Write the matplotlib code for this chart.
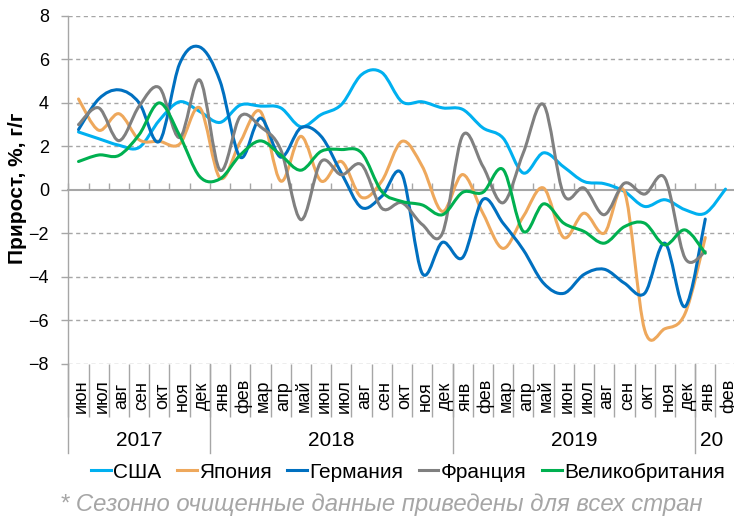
import numpy as np
import matplotlib
matplotlib.use('Agg')
import matplotlib.pyplot as plt
from matplotlib.path import Path
from matplotlib.patches import PathPatch
from matplotlib.lines import Line2D
import matplotlib.transforms as mtransforms

plt.rcParams['font.family'] = ['Liberation Sans', 'DejaVu Sans']

months = ['июн', 'июл', 'авг', 'сен', 'окт', 'ноя', 'дек',
          'янв', 'фев', 'мар', 'апр', 'май', 'июн', 'июл', 'авг', 'сен', 'окт', 'ноя', 'дек',
          'янв', 'фев', 'мар', 'апр', 'май', 'июн', 'июл', 'авг', 'сен', 'окт', 'ноя', 'дек',
          'янв', 'фев']
years = ['2017', '2018', '2019', '20']
year_start = [0, 7, 19, 31]

usa = [2.66, 2.35, 2.05, 1.95, 3.2, 4.05, 3.6, 3.1, 3.9, 3.85, 3.77, 2.9, 3.46, 3.92,
       5.3, 5.4, 4.05, 4.05, 3.77, 3.7, 2.85, 2.38, 0.77, 1.7, 1.05, 0.38, 0.28, -0.08,
       -0.77, -0.46, -0.92, -1.08, 0.03]
japan = [4.18, 2.74, 3.5, 2.3, 2.23, 2.1, 3.77, 0.54, 2.2, 3.6, 0.4, 2.46, 0.4, 1.3,
         -0.35, 0.4, 2.23, 1.08, -1.0, 0.7, -1.08, -2.7, -1.23, 0.08, -2.2, -1.08, -2.0,
         -0.08, -6.45, -6.4, -5.7, -2.2]
germany = [2.77, 4.18, 4.6, 4.0, 2.23, 5.8, 6.57, 5.0, 1.5, 3.3, 1.5, 2.85, 2.46, 0.77,
           -0.82, -0.3, 0.72, -3.85, -2.42, -3.12, -0.45, -1.54, -2.77, -4.3, -4.77, -3.9,
           -3.66, -4.3, -4.77, -2.46, -5.38, -1.35]
france = [3.0, 3.77, 2.26, 3.85, 4.7, 2.4, 5.05, 0.9, 3.38, 2.9, 1.85, -1.38, 1.3, 0.69,
          1.15, -0.85, -0.6, -1.6, -2.0, 2.5, 1.08, -0.6, 1.7, 3.92, -0.23, 0.08, -1.15,
          0.3, -0.2, 0.54, -3.15, -2.85]
uk = [1.3, 1.6, 1.58, 2.54, 4.0, 2.5, 0.6, 0.5, 1.6, 2.25, 1.6, 0.9, 1.77, 1.85, 1.7,
      -0.08, -0.54, -0.7, -1.15, -0.12, -0.12, 0.93, -1.92, -0.65, -1.54, -1.92, -2.46,
      -1.7, -1.54, -2.54, -1.85, -2.92]

series = [('США', usa, '#00B0F0'),
          ('Япония', japan, '#EEA85C'),
          ('Германия', germany, '#0070C0'),
          ('Франция', france, '#808080'),
          ('Великобритания', uk, '#00B050')]


def smooth_path(y):
    # excel-like smoothed line: catmull-rom as cubic bezier segments
    x = np.arange(len(y), dtype=float)
    y = np.asarray(y, dtype=float)
    pts = np.column_stack([x, y])
    ext = np.vstack([pts[0], pts, pts[-1]])
    verts = [pts[0]]
    codes = [Path.MOVETO]
    for i in range(len(pts) - 1):
        p0, p1, p2, p3 = ext[i], ext[i + 1], ext[i + 2], ext[i + 3]
        verts += [p1 + (p2 - p0) / 6, p2 - (p3 - p1) / 6, p2]
        codes += [Path.CURVE4] * 3
    return Path(verts, codes)


W, H = 734, 523
fig = plt.figure(figsize=(W / 100, H / 100), dpi=100)
ax_l, ax_r, ax_t, ax_b = 68.4, 735.6, 16, 363.5
ax = fig.add_axes([ax_l / W, 1 - ax_b / H, (ax_r - ax_l) / W, (ax_b - ax_t) / H])
gray = '#A6A6A6'

n = len(months)
ax.set_xlim(-0.5, n - 0.5)
ax.set_ylim(-8, 8)
ax.set_yticks(range(-8, 9, 2))
ax.tick_params(axis='y', length=5, width=1, color=gray, pad=9, labelsize=13)
for s in ['top', 'right', 'bottom']:
    ax.spines[s].set_visible(False)
ax.spines['left'].set_color(gray)
ax.spines['left'].set_linewidth(1)
for v in range(-8, 9, 2):
    if v != 0:
        ax.axhline(v, color=gray, lw=1, ls=(0, (3, 2.5)), zorder=0)

# category axis: separators and month labels under the plot
ax.set_xticks(np.arange(-0.5, n, 1.0))
ax.tick_params(axis='x', length=38, width=1, color=gray, direction='out', labelbottom=False)
trans = mtransforms.blended_transform_factory(ax.transData, ax.transAxes)
for i, m in enumerate(months):
    ax.text(i + 0.15, -(396 - ax_b) / (ax_b - ax_t), m, rotation=90, transform=trans,
            ha='center', va='center', fontsize=13)
sep_len = (452.7 - ax_b) / (ax_b - ax_t)
for k, ys in enumerate(year_start):
    ax.plot([ys - 0.5, ys - 0.5], [0, -sep_len], transform=trans, color=gray, lw=1,
            clip_on=False)
    end = year_start[k + 1] if k + 1 < len(year_start) else n
    if k == len(years) - 1:
        xc = (ys - 0.5 + n - 0.5) / 2 - 0.2
    else:
        xc = (ys - 0.5 + end - 0.5) / 2
    ax.text(xc, -(440.5 - ax_b) / (ax_b - ax_t), years[k], transform=trans,
            ha='center', va='center', fontsize=15)

# horizontal axis line at zero with small ticks
zero = ax.secondary_xaxis(0.5)
zero.set_xticks(np.arange(-0.5, n, 1.0))
zero.set_xticklabels([])
zero.tick_params(length=5, width=1, color=gray, direction='out')
for sp in zero.spines.values():
    sp.set_color(gray)
    sp.set_linewidth(1.5)

handles = []
for name, vals, col in series:
    ax.add_patch(PathPatch(smooth_path(vals), fill=False, edgecolor=col, lw=2.2,
                           capstyle='round', joinstyle='round', zorder=3))
    handles.append(Line2D([], [], color=col, lw=2.2, label=name))

fig.legend(handles=handles, loc='center', bbox_to_anchor=(408 / W, 1 - 472 / H), ncol=5,
           frameon=False, fontsize=15, handlelength=0.95, handletextpad=0.1,
           columnspacing=0.75, borderpad=0)

fig.text(17.5 / W, 1 - 188 / H, 'Прирост, %, г/г', rotation=90, fontweight='bold',
         fontsize=15, ha='center', va='center')
fig.text(60 / W, 1 - 505 / H, '* Сезонно очищенные данные приведены для всех стран',
         style='italic', color=gray, fontsize=17.2, ha='left', va='center')

fig.savefig('out.png', dpi=100)
